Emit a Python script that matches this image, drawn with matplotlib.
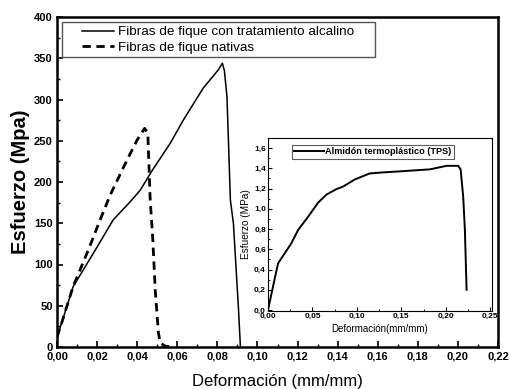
import matplotlib
matplotlib.use("Agg")
import matplotlib.pyplot as plt
from matplotlib.ticker import MultipleLocator, FuncFormatter
from matplotlib.patches import Rectangle

plt.rcParams['font.family'] = ['Liberation Sans', 'DejaVu Sans']

# Alkaline-treated fique fibres (solid)
alk_x = [0.0, 0.0023, 0.008, 0.014, 0.0207, 0.028, 0.0365, 0.0415, 0.0475, 0.0565,
         0.063, 0.073, 0.0805, 0.0825, 0.0835, 0.0848, 0.0865, 0.088, 0.0905, 0.0915]
alk_y = [12, 29, 73, 97, 124, 154, 176, 190, 214, 247,
         275, 314, 336, 344, 335, 303, 178, 150, 48, 0]

# Native fique fibres (dashed)
nat_x = [0.0, 0.0023, 0.008, 0.0157, 0.0215, 0.0265, 0.035, 0.040, 0.0437, 0.0453,
         0.0465, 0.0478, 0.049, 0.0506, 0.0515, 0.054, 0.058]
nat_y = [12, 29, 73, 118, 154, 184, 227, 251, 265, 259,
         178, 130, 69, 17, 5, 1, 0]

# Thermoplastic starch (inset)
tps_x = [0.0, 0.0056, 0.0113, 0.0188, 0.0263, 0.0338, 0.045, 0.0563, 0.0657, 0.077,
         0.0845, 0.0976, 0.1145, 0.1295, 0.148, 0.182, 0.201, 0.214, 0.2167, 0.2196,
         0.2215, 0.2234]
tps_y = [0.0, 0.23, 0.46, 0.56, 0.66, 0.79, 0.92, 1.06, 1.14, 1.195,
         1.22, 1.29, 1.35, 1.36, 1.37, 1.39, 1.425, 1.425, 1.39, 1.12,
         0.79, 0.20]

main_labels = ["Fibras de fique con tratamiento alcalino", "Fibras de fique nativas"]
inset_label = "Almidón termoplástico (TPS)"

W, H = 510, 389
fig = plt.figure(figsize=(W / 100, H / 100), dpi=100)

def box(l, t, r, b):
    return [l / W, 1 - b / H, (r - l) / W, (b - t) / H]

AL, AT, AR, AB = 57, 17, 498, 347
ax = fig.add_axes(box(AL, AT, AR, AB))
ax.plot(alk_x, alk_y, color='black', lw=1.1, label=main_labels[0])
ax.plot(nat_x, nat_y, color='black', lw=2.0, ls=(0, (3, 2)), label=main_labels[1])
ax.set_xlim(0, 0.22)
ax.set_ylim(0, 400)
ax.xaxis.set_major_locator(MultipleLocator(0.02))
ax.xaxis.set_minor_locator(MultipleLocator(0.01))
ax.yaxis.set_major_locator(MultipleLocator(50))
ax.yaxis.set_minor_locator(MultipleLocator(25))
ax.xaxis.set_major_formatter(FuncFormatter(lambda v, p: f"{v:.2f}".replace('.', ',')))
ax.tick_params(which='both', direction='in', top=False, right=False)
ax.tick_params(axis='x', which='major', length=4, width=1.2, labelsize=8, pad=3.5)
ax.tick_params(axis='y', which='major', length=4, width=1.2, labelsize=8, pad=3)
ax.tick_params(which='minor', length=2.5, width=1.0)
for lab in ax.get_xticklabels() + ax.get_yticklabels():
    lab.set_fontweight('bold')
for s in ax.spines.values():
    s.set_linewidth(1.8)
ax.set_xlabel("Deformación (mm/mm)", fontsize=12, labelpad=9)
ax.set_ylabel("Esfuerzo (Mpa)", fontsize=14.5, fontweight='bold', labelpad=3)

# legend frame drawn as a rectangle (pixel-based placement converted to axes fraction)
aw, ah = AR - AL, AB - AT
fl, ft, fr, fb = 62, 22, 375, 57
ax.add_patch(Rectangle(((fl - AL) / aw, 1 - (fb - AT) / ah), (fr - fl) / aw, (fb - ft) / ah,
                       transform=ax.transAxes, fill=True, facecolor='white',
                       edgecolor='#555555', lw=1.0, zorder=4))
leg = ax.legend(loc='upper left', bbox_to_anchor=((80 - AL) / aw, 1 - (24 - AT) / ah),
                fontsize=9.7, frameon=False, handlelength=2.4,
                handletextpad=0.25, borderpad=0.15, labelspacing=0.2, borderaxespad=0)
leg.set_zorder(5)

ins = fig.add_axes(box(268, 138, 492, 311))
ins.plot(tps_x, tps_y, color='black', lw=1.4, label=inset_label)
ins.set_xlim(0, 0.252)
ins.set_ylim(-0.01, 1.70)
ins.xaxis.set_major_locator(MultipleLocator(0.05))
ins.xaxis.set_minor_locator(MultipleLocator(0.025))
ins.yaxis.set_major_locator(MultipleLocator(0.2))
ins.yaxis.set_minor_locator(MultipleLocator(0.1))
ins.xaxis.set_major_formatter(FuncFormatter(lambda v, p: f"{v:.2f}".replace('.', ',')))
ins.yaxis.set_major_formatter(FuncFormatter(lambda v, p: f"{v:.1f}".replace('.', ',')))
ins.tick_params(which='both', direction='in', top=False, right=False)
ins.tick_params(which='major', length=3, width=0.8, labelsize=6, pad=1.5)
ins.tick_params(which='minor', length=1.5, width=0.6)
for lab in ins.get_xticklabels() + ins.get_yticklabels():
    lab.set_fontweight('bold')
for s in ins.spines.values():
    s.set_linewidth(0.8)
ins.set_xlabel("Deformación(mm/mm)", fontsize=7, labelpad=3)
ins.set_ylabel("Esfuerzo (MPa)", fontsize=7.2, labelpad=2)
ileg = ins.legend(loc='upper left', bbox_to_anchor=(24 / 224, 1 - 7 / 173),
                  frameon=True, fancybox=False, edgecolor='#333333', handlelength=3.2,
                  handletextpad=0.2, borderpad=0.25, borderaxespad=0,
                  prop={'size': 6.6, 'weight': 'bold'})
ileg.get_frame().set_linewidth(0.8)

fig.savefig("out.png", dpi=100)
